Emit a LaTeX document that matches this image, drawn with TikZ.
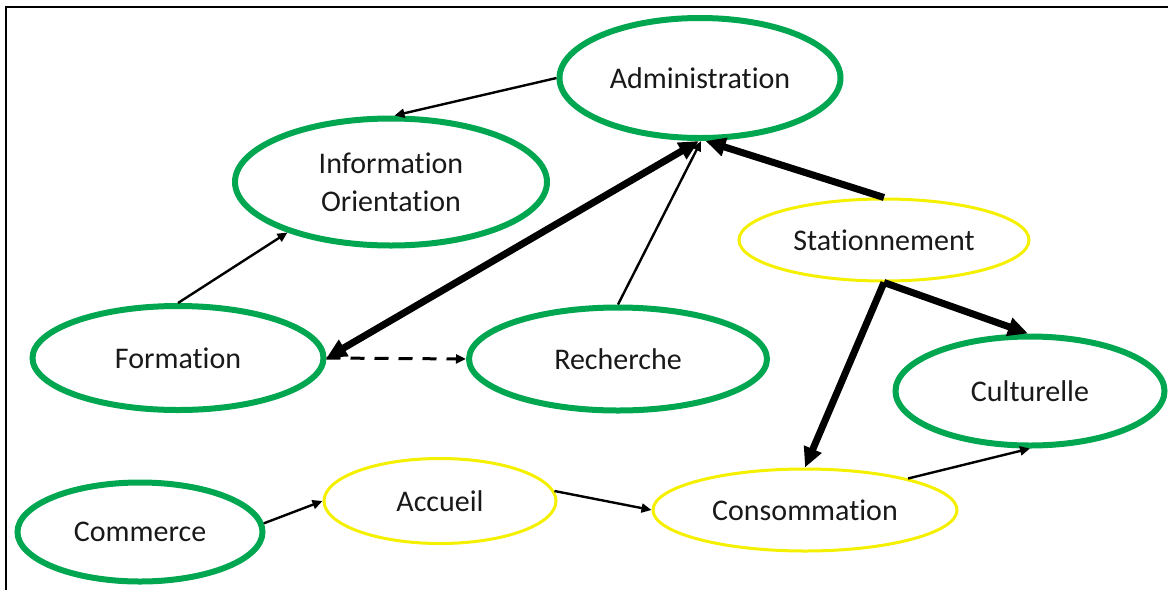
\documentclass[tikz,border=0pt]{standalone}
\usepackage{fontspec}
\setmainfont{Carlito}[Ligatures={NoCommon,NoContextual}]
\usetikzlibrary{shapes.geometric,arrows.meta}
\definecolor{ngreen}{RGB}{0,166,80}
\definecolor{nyellow}{RGB}{245,240,0}
\tikzset{
  ell/.style={ellipse, draw, inner sep=0pt, align=center,
    font=\fontsize{15pt}{19pt}\selectfont, text=black!90},
  gell/.style={ell, draw=ngreen, line width=3pt},
  yell/.style={ell, draw=nyellow, line width=1.5pt},
  thin/.style={line width=1.2pt, -{Triangle[length=5pt,width=4.5pt]}},
  thick/.style={line width=3.5pt, -{Triangle[length=10pt,width=9pt]}},
  dsh/.style={line width=1.5pt, dash pattern=on 7pt off 5pt, -{Triangle[length=5pt,width=4.5pt]}},
  frameline/.style={line width=1pt}
}
\begin{document}
\begin{tikzpicture}[x=0.5pt,y=-0.5pt]
\useasboundingbox (0,0) rectangle (1168,590);
\coordinate (fTL) at (6,7);
\coordinate (fTR) at (1168,7);
\coordinate (fBL) at (6,590);
\draw[frameline] (fTR) -- (fTL) -- (fBL);

\node[gell, minimum width=140.5pt, minimum height=60pt] (admin) at (700,78) {Administration};
\node[gell, minimum width=156pt, minimum height=63.5pt] (info) at (391,182) {Information\\Orientation};
\node[yell, minimum width=145pt, minimum height=41pt] (stat) at (884,240) {Stationnement};
\node[gell, minimum width=145.5pt, minimum height=52pt] (form) at (178,358) {Formation};
\node[gell, minimum width=149pt, minimum height=51.5pt] (rech) at (618,359) {Recherche};
\node[gell, minimum width=134.5pt, minimum height=54.5pt] (cult) at (1030,391) {Culturelle};
\node[gell, minimum width=122.5pt, minimum height=49.5pt] (comm) at (140,532) {Commerce};
\node[yell, minimum width=116pt, minimum height=42.5pt] (acc) at (440,501) {Accueil};
\node[yell, minimum width=152pt, minimum height=41pt] (cons) at (805,510) {Consommation};

\draw[thin] (admin.west) -- (info.87);
\draw[thin] (form.north) -- (info.206);
\draw[thick, {Triangle[length=10pt,width=9pt]}-{Triangle[length=10pt,width=9pt]}] (admin.-91) -- (form.east);
\draw[thin] (rech.north) -- (admin.-89);
\draw[thick] (stat.north) -- (admin.-85);
\draw[thick] (stat.south) -- (cons.north);
\draw[thick] (stat.south) -- (cult.92);
\draw[dsh] (form.east) -- (rech.west);
\draw[thin] (comm.4) -- (acc.west);
\draw[thin] (acc.5) -- (cons.west);
\draw[thin] (cons.17) -- (cult.-90);
\end{tikzpicture}
\end{document}
